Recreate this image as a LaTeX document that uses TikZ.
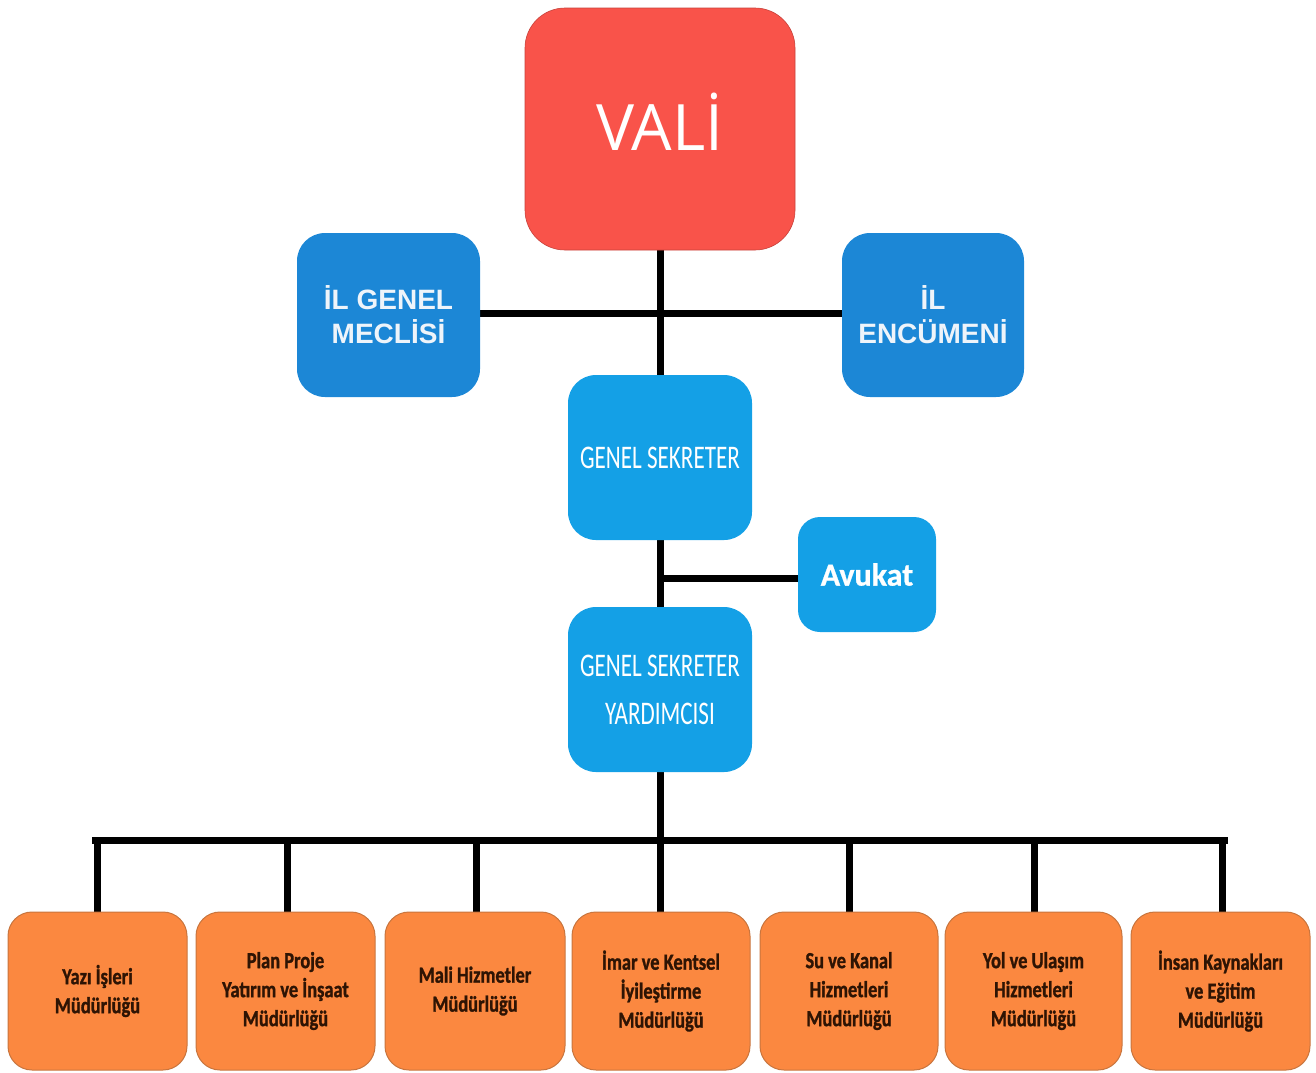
\documentclass[tikz,border=0pt]{standalone}
\usepackage{fontspec}
\setmainfont{Liberation Sans}
\newfontfamily\valifont{Open Sans}
\newfontfamily\condfont[FakeStretch=0.7]{Carlito}
\newfontfamily\condbold[FakeStretch=0.8,FakeBold=1.2]{Carlito Bold}
\newfontfamily\avfont[FakeBold=0.8]{Carlito Bold}
\definecolor{valired}{HTML}{F9534A}
\definecolor{darkblue}{HTML}{1C87D6}
\definecolor{lightblue}{HTML}{14A0E6}
\definecolor{orangebox}{HTML}{FB8840}
\definecolor{orangeedge}{HTML}{C8753E}
\definecolor{browntext}{HTML}{2E1404}
\definecolor{paletext}{HTML}{EEF4FA}
\tikzset{
  x=1pt, y=-1pt,
  box/.style={rounded corners=28pt, inner sep=0pt, align=center},
  topbox/.style={box, fill=darkblue, text=paletext, font=\bfseries\fontsize{28}{34}\selectfont},
  midbox/.style={box, fill=lightblue, text=white, font=\condfont\fontsize{33}{48}\selectfont},
  depbox/.style={box, fill=orangebox, draw=orangeedge, line width=1pt, rounded corners=24pt, text=browntext, font=\condbold\fontsize{23}{29}\selectfont},
  conn/.style={line width=7pt, black},
}
\begin{document}
\begin{tikzpicture}
\useasboundingbox (0,0) rectangle (1316,1072);
% connectors
\coordinate (vb) at (660,250);
\coordinate (ilm) at (480,313);
\coordinate (ile) at (842,313);
\coordinate (gsb) at (660,375);
\coordinate (gs2) at (660,540);
\coordinate (avj) at (660,578);
\coordinate (ava) at (798,578);
\coordinate (gy) at (660,607);
\coordinate (gyb) at (660,772);
\coordinate (bus) at (660,840);
\coordinate (bl) at (95,840);
\coordinate (br) at (1224,840);
\draw[conn] (vb) -- (gsb);
\draw[conn] (ilm) -- (ile);
\draw[conn] (gs2) -- (gy);
\draw[conn] (avj) -- (ava);
\draw[conn] (gyb) -- (bus);
\draw[conn, line cap=rect] (bl) -- (br);
\foreach \xx/\nm in {97/d1,287/d2,476/d3,660/d4,849/d5,1034/d6,1222/d7}{
  \coordinate (\nm t) at (\xx,840);
  \coordinate (\nm b) at (\xx,914);
  \draw[conn] (\nm t) -- (\nm b);
}
% boxes
\node[box, fill=valired, draw=valired!80!black, line width=0.6pt, rounded corners=40pt, minimum width=270pt, minimum height=242pt] (vali) at (660,129) {};
\node[text=white, font=\valifont\fontsize{64}{70}\selectfont, inner sep=0pt] (valitxt) at (660,122) {VAL\.I};
\node[topbox, minimum width=183pt, minimum height=164pt] (meclis) at (388.5,315) {\.IL GENEL\\MECL\.IS\.I};
\node[topbox, minimum width=182pt, minimum height=164pt] (encumen) at (933,315) {\.IL\\ENC\"UMEN\.I};
\node[midbox, minimum width=184pt, minimum height=165pt] (gs) at (660,457.5) {GENEL SEKRETER};
\node[box, fill=lightblue, text=white, rounded corners=22pt, font=\avfont\fontsize{32}{36}\selectfont, minimum width=138pt, minimum height=115pt] (avukat) at (867,574.5) {Avukat};
\node[midbox, minimum width=184pt, minimum height=165pt] (gsy) at (660,689.5) {GENEL SEKRETER\\YARDIMCISI};
\node[depbox, minimum width=179pt, minimum height=158pt] (m1) at (97.5,991) {Yazı İşleri\\Müdürlüğü};
\node[depbox, minimum width=179pt, minimum height=158pt] (m2) at (285.5,991) {Plan Proje\\Yatırım ve İnşaat\\Müdürlüğü};
\node[depbox, minimum width=180pt, minimum height=158pt] (m3) at (475,991) {Mali Hizmetler\\Müdürlüğü};
\node[depbox, minimum width=178pt, minimum height=158pt] (m4) at (661,991) {İmar ve Kentsel\\İyileştirme\\Müdürlüğü};
\node[depbox, minimum width=178pt, minimum height=158pt] (m5) at (849,991) {Su ve Kanal\\Hizmetleri\\Müdürlüğü};
\node[depbox, minimum width=177pt, minimum height=158pt] (m6) at (1033.5,991) {Yol ve Ulaşım\\Hizmetleri\\Müdürlüğü};
\node[depbox, minimum width=179pt, minimum height=158pt] (m7) at (1220.5,991) {İnsan  Kaynakları\\ve Eğitim\\Müdürlüğü};
\end{tikzpicture}
\end{document}
